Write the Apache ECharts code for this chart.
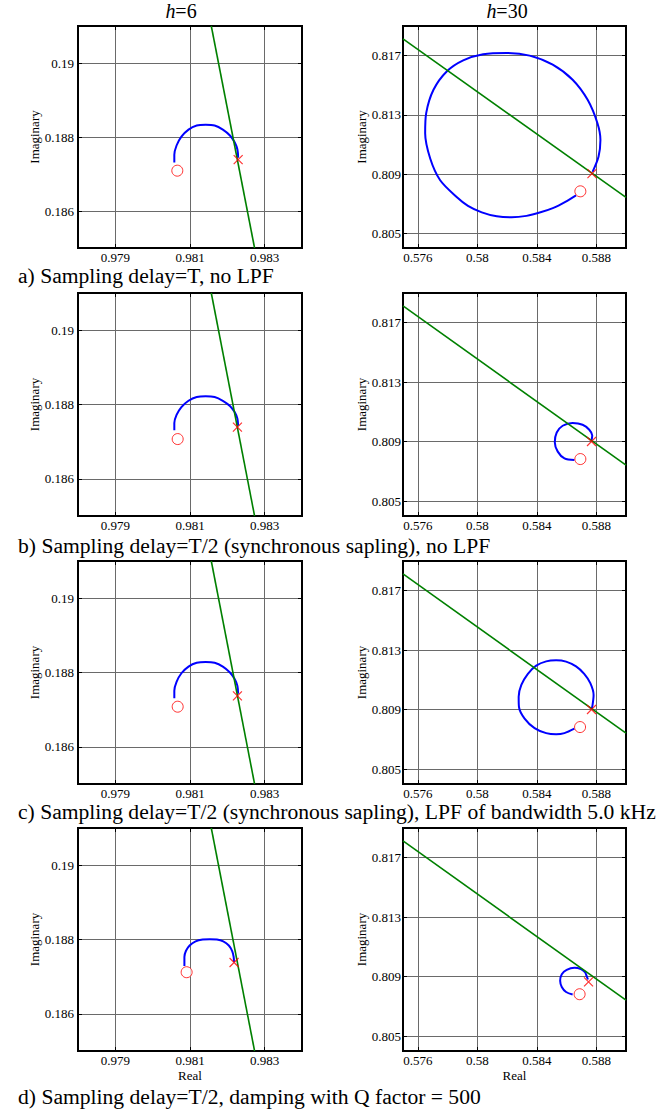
<!DOCTYPE html>
<html>
<head>
<meta charset="utf-8">
<script src="https://cdn.jsdelivr.net/npm/echarts@6/dist/echarts.min.js"></script>
<style>
html,body{margin:0;padding:0;background:#fff;}
#chart{width:663px;height:1113px;}
</style>
</head>
<body>
<div id="chart"></div>
<script>
// ---------- data ----------
const columnTitles = ['h=6', 'h=30'];
const captions = [
  'a) Sampling delay=T, no LPF',
  'b) Sampling delay=T/2 (synchronous sapling), no LPF',
  'c) Sampling delay=T/2 (synchronous sapling), LPF of bandwidth 5.0 kHz',
  'd) Sampling delay=T/2, damping with Q factor = 500'
];
const xTicks6 = [0.979, 0.981, 0.983];
const yTicks6 = [0.186, 0.188, 0.19];
const xTicks30 = [0.576, 0.58, 0.584, 0.588];
const yTicks30 = [0.805, 0.809, 0.813, 0.817];
const xRange6 = [0.978, 0.984];
const yRange6 = [0.185, 0.191];
const xRange30 = [0.575, 0.590];
const yRange30 = [0.804, 0.819];

// green boundary lines
const line6 = [[0.98157, 0.191], [0.98273, 0.185]];
const line30 = [[0.575, 0.81813], [0.590, 0.80742]];

// h=6 loci
const locus6A = [[0.98058,0.18731],[0.98058,0.18752],[0.98064,0.18777],[0.98077,0.18801],[0.98096,0.18820],[0.98118,0.18831],[0.98142,0.18833],[0.98166,0.18831],[0.98188,0.18820],[0.98207,0.18804],[0.98220,0.18785],[0.98227,0.18766],[0.98229,0.18744]];
const locus6B = [[0.98058,0.18731],[0.98058,0.18750],[0.98064,0.18772],[0.98077,0.18793],[0.98096,0.18810],[0.98118,0.18820],[0.98142,0.18822],[0.98166,0.18820],[0.98188,0.18810],[0.98207,0.18796],[0.98220,0.18779],[0.98227,0.18762],[0.98229,0.18743]];
const locus6C = [[0.98058,0.18731],[0.98058,0.18751],[0.98064,0.18775],[0.98077,0.18798],[0.98096,0.18816],[0.98118,0.18826],[0.98142,0.18828],[0.98166,0.18826],[0.98188,0.18816],[0.98207,0.18800],[0.98220,0.18782],[0.98227,0.18764],[0.98229,0.18743]];
const locus6D = [[0.98085,0.18729],[0.98085,0.18753],[0.98089,0.18769],[0.98099,0.18784],[0.98115,0.18795],[0.98134,0.18800],[0.98153,0.18801],[0.98172,0.18800],[0.98189,0.18795],[0.98204,0.18784],[0.98213,0.18769],[0.98217,0.18753],[0.98218,0.18739]];
const start6 = [[0.98066,0.18709],[0.98067,0.18707],[0.98067,0.18708],[0.98091,0.18712]];
const end6 = [[0.98229,0.18739],[0.98227,0.18739],[0.98227,0.18737],[0.98218,0.18738]];

// h=30 loci
const locus30A = [[0.58664,0.80756],[0.58592,0.80712],[0.58512,0.80671],[0.58425,0.80641],[0.58331,0.80617],[0.58231,0.80607],[0.58131,0.80614],[0.58030,0.80641],[0.57937,0.80685],[0.57861,0.80745],[0.57750,0.80858],[0.57683,0.81005],[0.57649,0.81175],[0.57656,0.81311],[0.57705,0.81469],[0.57794,0.81593],[0.57905,0.81668],[0.58039,0.81709],[0.58196,0.81718],[0.58352,0.81700],[0.58507,0.81639],[0.58641,0.81537],[0.58742,0.81401],[0.58808,0.81243],[0.58828,0.81130],[0.58815,0.81016],[0.58775,0.80914]];
const locus30B = [[0.58653,0.80776],[0.58586,0.80787],[0.58541,0.80833],[0.58521,0.80896],[0.58534,0.80962],[0.58574,0.81007],[0.58641,0.81025],[0.58708,0.81014],[0.58753,0.80980],[0.58773,0.80941],[0.58768,0.80908]];
const locus30C = [[0.58653,0.80772],[0.58586,0.80742],[0.58530,0.80734],[0.58463,0.80742],[0.58385,0.80776],[0.58318,0.80840],[0.58280,0.80919],[0.58278,0.80987],[0.58296,0.81066],[0.58340,0.81141],[0.58396,0.81196],[0.58463,0.81225],[0.58530,0.81232],[0.58597,0.81223],[0.58664,0.81191],[0.58719,0.81141],[0.58760,0.81078],[0.58782,0.80999],[0.58775,0.80931],[0.58768,0.80901]];
const locus30D = [[0.58641,0.80780],[0.58597,0.80797],[0.58568,0.80831],[0.58557,0.80872],[0.58568,0.80917],[0.58601,0.80946],[0.58653,0.80960],[0.58697,0.80951],[0.58724,0.80930],[0.58735,0.80905],[0.58744,0.80881]];
const start30 = [[0.58693,0.80783],[0.58693,0.80783],[0.58691,0.80783],[0.58688,0.80782]];
const end30 = [[0.58771,0.80903],[0.58768,0.80901],[0.58768,0.80901],[0.58748,0.80865]];

const loci6 = [locus6A, locus6B, locus6C, locus6D];
const loci30 = [locus30A, locus30B, locus30C, locus30D];

// ---------- layout ----------
const FONT = 'Liberation Serif';
const colLeft = [78, 403];
const colWidth = [224, 223];
const rowTop = [26, 293, 561, 828];
const rowHeight = [222, 223, 223, 223];
const captionY = [276, 546, 812, 1097];

const grids = [], xAxes = [], yAxes = [], series = [];

function addPanel(row, col) {
  const gi = grids.length;
  grids.push({
    left: colLeft[col], top: rowTop[row], width: colWidth[col], height: rowHeight[row],
    show: true, borderColor: '#000', borderWidth: 2, backgroundColor: '#fff'
  });
  const xt = col === 0 ? xTicks6 : xTicks30;
  const yt = col === 0 ? yTicks6 : yTicks30;
  const xr = col === 0 ? xRange6 : xRange30;
  const yr = col === 0 ? yRange6 : yRange30;
  const tick = (vals) => ({ show: true, inside: true, length: 4, customValues: vals, lineStyle: { color: '#000', width: 1 } });
  const lbl = (vals, margin) => ({ show: true, customValues: vals, margin: margin, color: '#000', fontFamily: FONT, fontSize: 13 });
  const split = { show: true, lineStyle: { color: '#6a6a6a', width: 1 } };
  const xi = xAxes.length;
  xAxes.push({
    gridIndex: gi, type: 'value', position: 'bottom', min: xr[0], max: xr[1],
    axisLine: { show: false }, axisTick: tick(xt), axisLabel: lbl(xt, 3), splitLine: split,
    name: row === 3 ? 'Real' : '', nameLocation: 'middle', nameGap: 18,
    nameTextStyle: { color: '#000', fontFamily: FONT, fontSize: 13 }
  });
  xAxes.push({
    gridIndex: gi, type: 'value', position: 'top', min: xr[0], max: xr[1],
    axisLine: { show: false }, axisTick: tick(xt), axisLabel: { show: false, customValues: xt }, splitLine: { show: false }
  });
  const yi = yAxes.length;
  yAxes.push({
    gridIndex: gi, type: 'value', position: 'left', min: yr[0], max: yr[1],
    axisLine: { show: false }, axisTick: tick(yt), axisLabel: lbl(yt, col === 0 ? 4 : 2), splitLine: split,
    name: 'Imaginary', nameLocation: 'middle', nameGap: col === 0 ? 35 : 34, nameRotate: 90,
    nameTextStyle: { color: '#000', fontFamily: FONT, fontSize: 13 }
  });
  yAxes.push({
    gridIndex: gi, type: 'value', position: 'right', min: yr[0], max: yr[1],
    axisLine: { show: false }, axisTick: tick(yt), axisLabel: { show: false, customValues: yt }, splitLine: { show: false }
  });
  const locus = col === 0 ? loci6[row] : loci30[row];
  const line = col === 0 ? line6 : line30;
  const st = col === 0 ? start6[row] : start30[row];
  const en = col === 0 ? end6[row] : end30[row];
  series.push({
    type: 'line', xAxisIndex: xi, yAxisIndex: yi, data: locus, smooth: 0.3,
    showSymbol: false, lineStyle: { color: '#0000ff', width: 2 }, z: 2, silent: true, clip: true
  });
  series.push({
    type: 'line', xAxisIndex: xi, yAxisIndex: yi, data: line,
    showSymbol: false, lineStyle: { color: '#008000', width: 1.6 }, z: 3, silent: true, clip: true
  });
  series.push({
    type: 'scatter', xAxisIndex: xi, yAxisIndex: yi, data: [st], symbol: 'circle', symbolSize: 11,
    itemStyle: { color: '#fff', borderColor: '#ff0000', borderWidth: 1 }, z: 4, silent: true
  });
  series.push({
    type: 'scatter', xAxisIndex: xi, yAxisIndex: yi, data: [en], symbol: 'path://M0,0L10,10M10,0L0,10', symbolSize: 9,
    itemStyle: { color: 'none', borderColor: '#ff0000', borderWidth: 1.2 }, z: 4, silent: true
  });
}

for (let r = 0; r < 4; r++) { addPanel(r, 0); addPanel(r, 1); }

const graphics = [];
const titleX = [181, 507];
columnTitles.forEach((t, i) => {
  const parts = t.split('=');
  graphics.push({
    type: 'text', x: titleX[i], y: 11,
    style: {
      text: '{i|' + parts[0] + '}=' + parts[1],
      align: 'center', verticalAlign: 'middle',
      fontFamily: FONT, fontSize: 20, fill: '#000',
      rich: { i: { fontStyle: 'italic', fontFamily: FONT, fontSize: 20 } }
    }
  });
});
captions.forEach((c, i) => {
  graphics.push({
    type: 'text', x: 18, y: captionY[i],
    style: { text: c, align: 'left', verticalAlign: 'middle', fontFamily: FONT, fontSize: 21.6, fill: '#000' }
  });
});

const chart = echarts.init(document.getElementById('chart'), null, { renderer: 'svg' });
chart.setOption({
  animation: false,
  backgroundColor: '#fff',
  textStyle: { fontFamily: FONT, color: '#000' },
  grid: grids,
  xAxis: xAxes,
  yAxis: yAxes,
  series: series,
  graphic: graphics
});
</script>
</body>
</html>
